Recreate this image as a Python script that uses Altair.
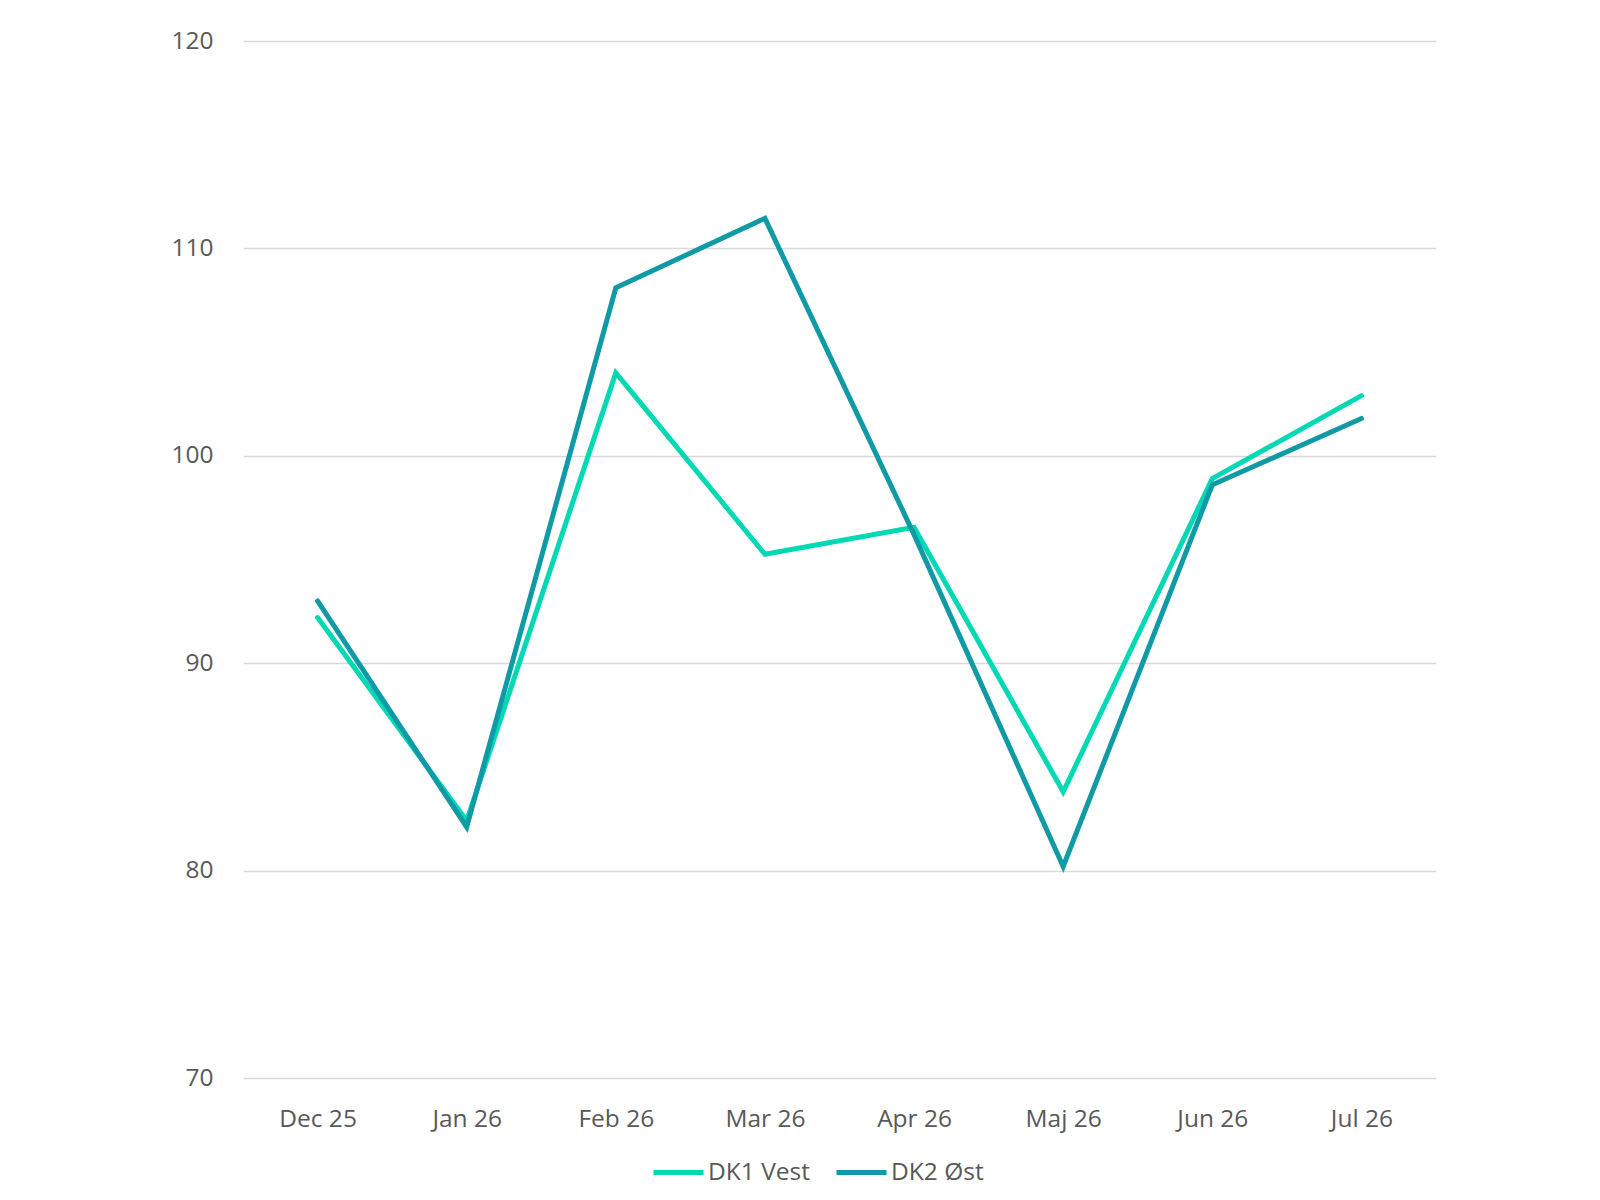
import altair as alt
import pandas as pd

months = ["Dec 25", "Jan 26", "Feb 26", "Mar 26", "Apr 26", "Maj 26", "Jun 26", "Jul 26"]
dk1_vest = [92.2, 82.4, 104.0, 95.25, 96.55, 83.8, 98.9, 102.9]
dk2_ost = [93.0, 82.1, 108.1, 111.45, 96.2, 80.2, 98.6, 101.8]
series_names = ["DK1 Vest", "DK2 Øst"]
series_colors = ["#00D9B4", "#0F9AA6"]
y_ticks = [70, 80, 90, 100, 110, 120]

rows = []
for name, vals in zip(series_names, [dk1_vest, dk2_ost]):
    for m, v in zip(months, vals):
        rows.append({"Måned": m, "Serie": name, "Værdi": v})
df = pd.DataFrame(rows)

FONT = "Open Sans"
TXT = "#595959"
FS = 24.5

chart = (
    alt.Chart(df)
    .mark_line(strokeWidth=5, strokeCap="round", strokeJoin="miter")
    .encode(
        x=alt.X(
            "Måned:N",
            sort=months,
            scale=alt.Scale(type="point", padding=0.5),
            axis=alt.Axis(
                title=None,
                domain=False,
                ticks=False,
                grid=False,
                labelAngle=0,
                labelFont=FONT,
                labelFontSize=FS,
                labelColor=TXT,
                labelPadding=29,
            ),
        ),
        y=alt.Y(
            "Værdi:Q",
            scale=alt.Scale(domain=[70, 120], nice=False, zero=False),
            axis=alt.Axis(
                title=None,
                values=y_ticks,
                domain=False,
                ticks=False,
                grid=True,
                gridColor="#D9D9D9",
                gridWidth=1.5,
                labelFont=FONT,
                labelFontSize=FS,
                labelColor=TXT,
                labelPadding=30,
            ),
        ),
        color=alt.Color(
            "Serie:N",
            sort=series_names,
            scale=alt.Scale(domain=series_names, range=series_colors),
            legend=alt.Legend(
                title=None,
                orient="none",
                legendX=408,
                legendY=1104,
                direction="horizontal",
                symbolType="stroke",
                symbolSize=2500,
                symbolStrokeWidth=5,
                labelFont=FONT,
                labelFontSize=FS,
                labelColor=TXT,
                labelOffset=2,
                columnPadding=16,
            ),
        ),
        order=alt.Order("Serie:N"),
    )
    .properties(
        width=1193,
        height=1037,
        autosize=alt.AutoSizeParams(type="none"),
        padding={"left": 235, "top": 33, "right": 100, "bottom": 120},
    )
    .configure(background="white")
    .configure_view(strokeWidth=0, stroke="transparent")
)

chart.save("out.html", embed_options={"renderer": "svg", "actions": False})
